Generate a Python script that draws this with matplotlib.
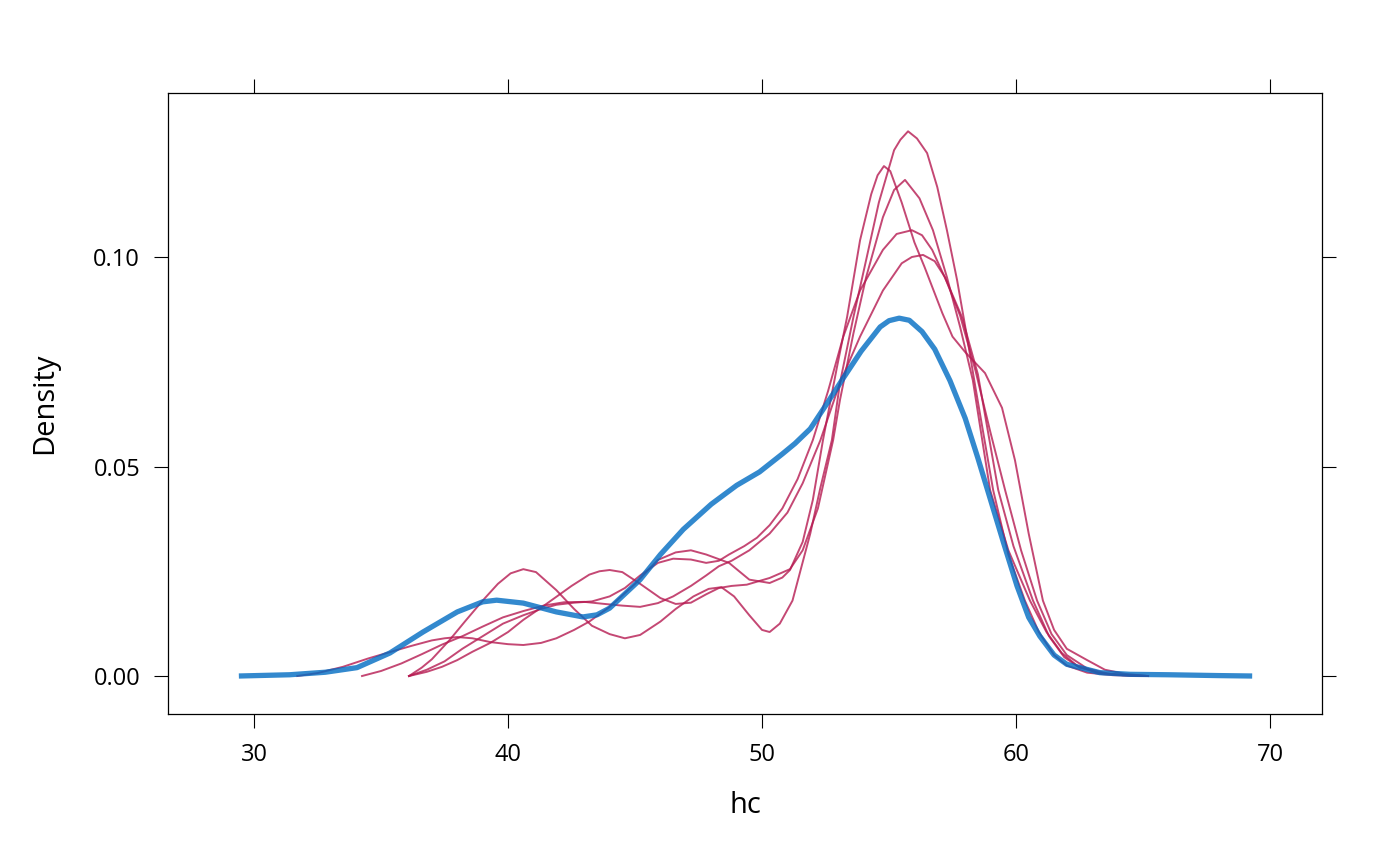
"""Density of observed vs imputed hc."""
import matplotlib
matplotlib.use('Agg')
import matplotlib.pyplot as plt

plt.rcParams['font.family'] = ['Open Sans', 'DejaVu Sans']

# observed data density (blue)
obs_x = [29.4, 31.4, 32.8, 34.05, 35.35, 36.65, 38.0, 39.0, 39.55, 40.6, 41.9,
         42.95, 43.5, 44.0, 45.2, 46.0, 46.9, 48.0, 49.0, 49.9, 50.8, 51.3,
         51.9, 52.5, 53.2, 53.9, 54.65, 55.0, 55.4, 55.8, 56.3, 56.8, 57.4,
         58.0, 58.5, 59.0, 59.5, 60.04, 60.5, 60.94, 61.5, 62.0, 63.3, 64.5,
         66.0, 68.0, 69.3]
obs_y = [0.0, 0.0003, 0.0009, 0.002, 0.0055, 0.0105, 0.0153, 0.0177, 0.0181,
         0.0174, 0.0153, 0.0141, 0.0146, 0.0162, 0.023, 0.029, 0.035, 0.041,
         0.0455, 0.0487, 0.053, 0.0555, 0.059, 0.0645, 0.0711, 0.0775, 0.0833,
         0.0848, 0.0854, 0.0849, 0.0822, 0.0780, 0.0705, 0.0615, 0.052, 0.042,
         0.032, 0.0215, 0.014, 0.0095, 0.005, 0.0028, 0.0008, 0.0004, 0.0003,
         0.0001, 0.0]

# imputed data densities (red), one per imputation
imp1_x = [36.1, 36.6, 37.0, 37.7, 38.3, 39.0, 39.6, 40.1, 40.6, 41.1, 41.9,
          42.6, 43.3, 44.0, 44.6, 45.2, 46.0, 46.6, 47.3, 47.9, 48.4, 48.9,
          49.5, 50.0, 50.3, 50.7, 51.2, 51.9, 52.3, 52.75, 53.07, 53.6, 54.1,
          54.6, 55.2, 55.45, 55.75, 56.1, 56.5, 56.9, 57.28, 57.68, 58.07,
          58.4, 59.1, 59.7, 60.35, 60.9, 61.5, 62.0, 62.8, 63.8, 65.2]
imp1_y = [0.0, 0.002, 0.004, 0.0086, 0.013, 0.018, 0.022, 0.0245, 0.0255,
          0.0248, 0.0205, 0.016, 0.012, 0.010, 0.009, 0.0098, 0.013, 0.016,
          0.019, 0.0208, 0.0212, 0.019, 0.0145, 0.011, 0.0105, 0.0125, 0.018,
          0.034, 0.045, 0.0563, 0.070, 0.0857, 0.0993, 0.113, 0.1255, 0.128,
          0.130, 0.1283, 0.1248, 0.1167, 0.1064, 0.0945, 0.081, 0.069, 0.0444,
          0.029, 0.018, 0.0105, 0.005, 0.0025, 0.0008, 0.0002, 0.0]

imp2_x = [31.7, 32.5, 33.5, 34.5, 35.4, 36.2, 37.0, 37.5, 38.0, 38.6, 39.3,
          40.0, 40.6, 41.3, 41.9, 42.6, 43.2, 44.0, 45.0, 45.9, 46.6, 47.2,
          47.8, 48.7, 49.5, 50.3, 50.8, 51.1, 51.6, 52.0, 52.4, 52.95, 53.35,
          53.86, 54.3, 54.55, 54.8, 55.05, 55.5, 56.0, 56.4, 57.1, 57.5, 58.0,
          58.78, 59.45, 59.96, 60.5, 61.06, 61.5, 62.0, 62.8, 63.5, 64.3, 65.2]
imp2_y = [0.0, 0.0007, 0.0022, 0.0042, 0.0058, 0.0072, 0.0085, 0.009, 0.0093,
          0.009, 0.0081, 0.0076, 0.0074, 0.0079, 0.009, 0.011, 0.013, 0.0165,
          0.022, 0.0277, 0.0295, 0.030, 0.029, 0.027, 0.023, 0.0222, 0.0235,
          0.0253, 0.032, 0.042, 0.0563, 0.0737, 0.0857, 0.104, 0.115, 0.1195,
          0.1217, 0.1205, 0.113, 0.1035, 0.0976, 0.0866, 0.081, 0.0773, 0.0723,
          0.064, 0.0515, 0.034, 0.018, 0.011, 0.0065, 0.0038, 0.0015, 0.0005,
          0.0]

imp3_x = [36.1, 36.8, 37.4, 38.0, 38.6, 39.3, 40.0, 40.6, 41.3, 41.9, 42.5,
          43.2, 43.6, 44.0, 44.5, 45.2, 46.0, 46.6, 47.2, 47.8, 48.3, 48.8,
          49.4, 50.3, 51.1, 51.6, 52.2, 52.8, 53.07, 53.6, 54.1, 54.76, 55.2,
          55.63, 56.2, 56.73, 57.28, 57.8, 58.3, 58.98, 59.7, 60.55, 61.2,
          61.8, 62.4, 63.2, 64.2, 65.2]
imp3_y = [0.0, 0.001, 0.0022, 0.0038, 0.0058, 0.0079, 0.0105, 0.0134, 0.0163,
          0.0189, 0.0215, 0.0242, 0.025, 0.0253, 0.0248, 0.022, 0.0186, 0.0172,
          0.0175, 0.0195, 0.021, 0.0215, 0.0218, 0.0234, 0.0255, 0.030, 0.040,
          0.0563, 0.0659, 0.0818, 0.0952, 0.1095, 0.116, 0.1184, 0.114, 0.1064,
          0.0952, 0.0833, 0.0706, 0.0444, 0.030, 0.018, 0.0105, 0.0055, 0.0025,
          0.0008, 0.0002, 0.0]

imp4_x = [36.1, 36.8, 37.5, 38.2, 39.0, 39.8, 40.6, 41.3, 41.9, 42.6, 43.3,
          44.0, 44.6, 45.2, 45.9, 46.5, 47.2, 47.8, 48.3, 48.7, 49.3, 49.8,
          50.3, 50.8, 51.4, 52.0, 52.6, 53.2, 53.86, 54.76, 55.3, 55.9, 56.3,
          56.7, 57.3, 57.87, 58.5, 59.3, 59.9, 60.67, 61.3, 61.9, 62.5, 63.3,
          64.2, 65.2]
imp4_y = [0.0, 0.0015, 0.0035, 0.0065, 0.0095, 0.0125, 0.0145, 0.016, 0.017,
          0.0175, 0.0178, 0.019, 0.021, 0.024, 0.027, 0.028, 0.0278, 0.027,
          0.0275, 0.029, 0.031, 0.033, 0.036, 0.040, 0.047, 0.0563, 0.068,
          0.081, 0.092, 0.1017, 0.1055, 0.1064, 0.1052, 0.1017, 0.0938, 0.0857,
          0.072, 0.0444, 0.031, 0.018, 0.0095, 0.0045, 0.002, 0.0007, 0.0002,
          0.0]

imp5_x = [34.25, 35.0, 35.8, 36.6, 37.4, 38.2, 39.0, 39.8, 40.6, 41.4, 42.2,
          43.0, 43.8, 44.5, 45.2, 45.9, 46.5, 47.2, 47.8, 48.3, 48.8, 49.5,
          50.3, 51.0, 51.6, 52.3, 53.07, 53.86, 54.76, 55.5, 55.9, 56.34,
          56.8, 57.2, 57.8, 58.4, 59.0, 59.57, 60.2, 60.83, 61.4, 62.0, 62.8,
          63.6, 64.4, 65.2]
imp5_y = [0.0, 0.0012, 0.003, 0.0052, 0.0075, 0.0095, 0.0118, 0.014, 0.0155,
          0.0168, 0.0176, 0.0177, 0.0172, 0.0168, 0.0165, 0.0174, 0.019, 0.0215,
          0.024, 0.0262, 0.0275, 0.030, 0.034, 0.039, 0.046, 0.0563, 0.070,
          0.081, 0.092, 0.0985, 0.1000, 0.1005, 0.0990, 0.0952, 0.086, 0.073,
          0.058, 0.0444, 0.030, 0.018, 0.010, 0.005, 0.0018, 0.0006, 0.0002,
          0.0]

imputations = [(imp1_x, imp1_y), (imp2_x, imp2_y), (imp3_x, imp3_y),
               (imp4_x, imp4_y), (imp5_x, imp5_y)]

x_ticks = [30, 40, 50, 60, 70]
y_ticks = [0.0, 0.05, 0.10]
y_labels = ['0.00', '0.05', '0.10']


def _plot():
    fig = plt.figure(figsize=(14, 8.66), dpi=100)
    ax = fig.add_axes([0.12, 0.1755, 0.8243, 0.7171])

    ax.plot(obs_x, obs_y, color='#006CC2', alpha=0.8, lw=3.8,
            solid_capstyle='butt', solid_joinstyle='round', zorder=3)
    for xs, ys in imputations:
        ax.plot(xs, ys, color='#B61A51', alpha=0.8, lw=1.4,
                solid_joinstyle='round', zorder=2)

    ax.set_xlim(26.61, 72.05)
    ax.set_ylim(-0.00907, 0.13914)
    ax.set_xticks(x_ticks)
    ax.set_yticks(y_ticks)
    ax.set_yticklabels(y_labels)
    ax.tick_params(direction='out', length=10, width=0.8, labelsize=17,
                   top=True, right=True, labeltop=False, labelright=False)
    ax.tick_params(axis='x', pad=11)
    ax.tick_params(axis='y', pad=10)
    for side in ax.spines.values():
        side.set_linewidth(0.9)

    ax.set_xlabel('hc', fontsize=21)
    ax.set_ylabel('Density', fontsize=21)
    ax.xaxis.label.set_va('center')
    ax.yaxis.label.set_va('center')
    ax.xaxis.set_label_coords(0.5, -0.148)
    ax.yaxis.set_label_coords(-0.1066, 0.5)

    fig.savefig('out.png', dpi=100)


if __name__ == '__main__':
    _plot()
